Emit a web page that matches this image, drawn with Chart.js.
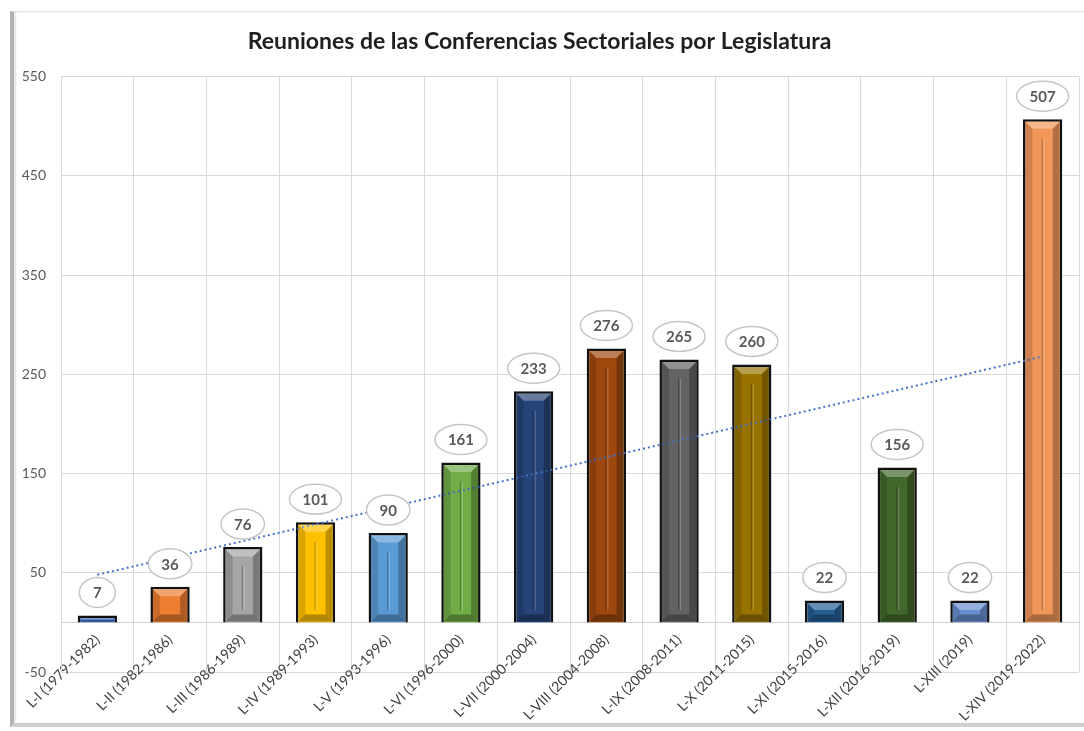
<!DOCTYPE html>
<html>
<head>
<meta charset="utf-8">
<script src="https://cdn.jsdelivr.net/npm/chart.js@4"></script>
<style>
  html, body { margin: 0; padding: 0; background: #fff; }
  #wrap { position: relative; width: 1084px; height: 731px; }
  #frame {
    position: absolute; left: 10px; top: 11px; width: 1074px; height: 716px;
    box-sizing: border-box;
    border-left: 4px solid #b3b3b3; border-top: 1px solid #e3e3e3; border-bottom: 4px solid #cfcfcf;
    box-shadow: inset 2px 0 2px #e6e6e6;
  }
  #chart { position: absolute; left: 0; top: 0; }
</style>
</head>
<body>
<div id="wrap">
  <div id="frame"></div>
  <canvas id="chart" width="1084" height="731"></canvas>
</div>
<script>
const legislaturas = ['L-I (1979-1982)', 'L-II (1982-1986)', 'L-III (1986-1989)', 'L-IV (1989-1993)',
  'L-V (1993-1996)', 'L-VI (1996-2000)', 'L-VII (2000-2004)', 'L-VIII (2004-2008)', 'L-IX (2008-2011)',
  'L-X (2011-2015)', 'L-XI (2015-2016)', 'L-XII (2016-2019)', 'L-XIII (2019)', 'L-XIV (2019-2022)'];
const reuniones = [7, 36, 76, 101, 90, 161, 233, 276, 265, 260, 22, 156, 22, 507];
// tendencia lineal (extremos en L-I y L-XIV)
const tendencia = [48, null, null, null, null, null, null, null, null, null, null, null, null, 268];
const barColors = ['#4472C4', '#ED7D31', '#A5A5A5', '#FFC000', '#5B9BD5', '#70AD47', '#264478',
  '#9E480E', '#636363', '#997300', '#255E91', '#43682B', '#698ED0', '#F1975A'];
const yTicks = [-50, 50, 150, 250, 350, 450, 550];

Chart.defaults.font.family = 'Lato, "Open Sans", sans-serif';

// bisel de las barras + etiquetas en elipse
const bevelAndLabels = {
  id: 'bevelAndLabels',
  afterDatasetsDraw(chart) {
    const ctx = chart.ctx;
    const meta = chart.getDatasetMeta(0);
    ctx.save();
    meta.data.forEach((bar) => {
      const p = bar.getProps(['x', 'y', 'base', 'width'], true);
      const L = p.x - p.width / 2 + 2.5, R = p.x + p.width / 2 - 2.5;
      const T = p.y + 2.5, B = p.base - 1;
      const b = Math.max(0, Math.min(7, (B - T) / 2, (R - L) / 2));
      const poly = (pts, fill) => {
        ctx.beginPath();
        ctx.moveTo(pts[0][0], pts[0][1]);
        for (let i = 1; i < pts.length; i++) ctx.lineTo(pts[i][0], pts[i][1]);
        ctx.closePath();
        ctx.fillStyle = fill;
        ctx.fill();
      };
      poly([[L, T], [R, T], [R - b, T + b], [L + b, T + b]], 'rgba(255,255,255,0.30)');
      poly([[L, B], [R, B], [R - b, B - b], [L + b, B - b]], 'rgba(0,0,0,0.30)');
      poly([[L, T], [L + b, T + b], [L + b, B - b], [L, B]], 'rgba(0,0,0,0.14)');
      poly([[R, T], [R - b, T + b], [R - b, B - b], [R, B]], 'rgba(0,0,0,0.26)');
      if (B - T > 40) {
        ctx.lineWidth = 1;
        ctx.strokeStyle = 'rgba(0,0,0,0.30)';
        ctx.beginPath(); ctx.moveTo(p.x - 0.5, T + b + 10); ctx.lineTo(p.x - 0.5, B - b - 4); ctx.stroke();
        ctx.strokeStyle = 'rgba(255,255,255,0.25)';
        ctx.beginPath(); ctx.moveTo(p.x + 1.5, T + b + 10); ctx.lineTo(p.x + 1.5, B - b - 4); ctx.stroke();
      }
    });
    ctx.font = 'bold 15px Lato, "Open Sans", sans-serif';
    ctx.textAlign = 'center';
    ctx.textBaseline = 'middle';
    meta.data.forEach((bar, i) => {
      const txt = String(reuniones[i]);
      const tw = ctx.measureText(txt).width;
      const cx = bar.x, cy = bar.y - 23;
      ctx.beginPath();
      ctx.ellipse(cx, cy, Math.max(tw / 2 + 13, 18), 15, 0, 0, Math.PI * 2);
      ctx.fillStyle = '#ffffff';
      ctx.fill();
      ctx.lineWidth = 1.5;
      ctx.strokeStyle = '#c6c6c6';
      ctx.stroke();
      ctx.fillStyle = '#595959';
      ctx.fillText(txt, cx, cy + 1);
    });
    ctx.restore();
  }
};

const data = {
  labels: legislaturas,
  datasets: [{
    type: 'bar',
    label: 'Reuniones',
    data: reuniones,
    backgroundColor: barColors,
    borderColor: '#111111',
    borderWidth: 2.5,
    barPercentage: 0.54,
    categoryPercentage: 1,
    order: 2
  }, {
    type: 'line',
    label: 'Tendencia',
    data: tendencia,
    spanGaps: true,
    borderColor: '#4472C4',
    borderWidth: 2,
    borderDash: [2, 3],
    pointRadius: 0,
    fill: false,
    order: 1
  }]
};

const config = {
  type: 'bar',
  data: data,
  options: {
    responsive: false,
    animation: false,
    layout: { padding: { left: 0, right: 5, top: 0, bottom: 59 } },
    plugins: {
      legend: { display: false },
      tooltip: { enabled: false },
      title: {
        display: true,
        text: 'Reuniones de las Conferencias Sectoriales por Legislatura',
        color: '#1f1f1f',
        font: { size: 23, weight: 'bold' },
        padding: { top: 28, bottom: 21 }
      }
    },
    scales: {
      x: {
        position: { y: 0 },
        offset: true,
        grid: { color: '#d9d9d9', drawTicks: false, offset: true },
        border: { color: '#d0d0d0', width: 1 },
        ticks: { color: '#404040', font: { size: 14 }, maxRotation: 45, minRotation: 45, padding: 9, autoSkip: false }
      },
      y: {
        min: -50,
        max: 550,
        afterBuildTicks: (scale) => { scale.ticks = yTicks.map(v => ({ value: v })); },
        afterFit: (scale) => { scale.width = 61; },
        grid: { color: '#d9d9d9', drawTicks: false },
        border: { color: '#d9d9d9' },
        ticks: { color: '#595959', font: { size: 14 }, padding: 15 }
      }
    }
  },
  plugins: [bevelAndLabels]
};

const reunionesChart = new Chart(document.getElementById('chart'), config);
</script>
</body>
</html>
